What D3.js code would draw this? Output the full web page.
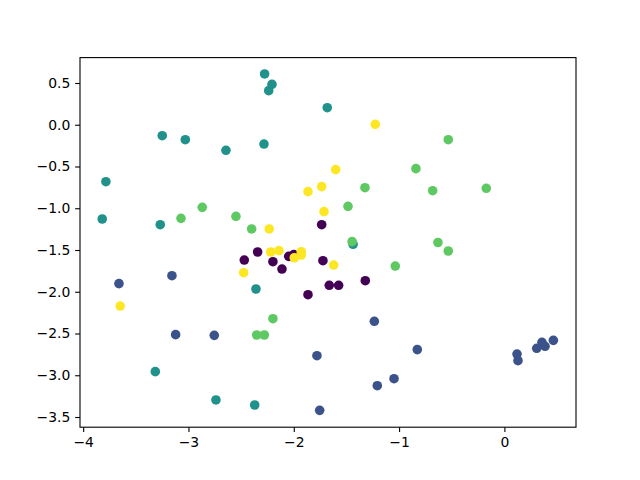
<!DOCTYPE html>
<html><head><meta charset="utf-8">
<script src="https://cdn.jsdelivr.net/npm/d3@7"></script>
<style>body{margin:0;background:#fff}svg{display:block}</style>
</head><body>
<script>
const classes = [0, 1, 2, 3, 4];
const colors = ["#440154", "#3b528b", "#21918c", "#5ec962", "#fde725"];
const class0 = [[-2.470,-1.620],[-2.343,-1.524],[-2.198,-1.640],[-2.112,-1.728],[-2.048,-1.576],[-2.000,-1.555],[-1.735,-1.197],[-1.723,-1.628],[-1.865,-2.035],[-1.663,-1.923],[-1.574,-1.923],[-1.321,-1.868]];
const class1 = [[-3.660,-1.903],[-3.157,-1.808],[-3.122,-2.514],[-2.755,-2.522],[-1.780,-2.766],[-1.754,-3.420],[-1.235,-2.354],[-0.827,-2.693],[-1.207,-3.125],[-1.048,-3.041],[0.120,-2.746],[0.129,-2.825],[0.307,-2.677],[0.357,-2.606],[0.386,-2.653],[0.465,-2.582]];
const class2 = [[-2.277,0.608],[-2.207,0.483],[-2.238,0.408],[-1.682,0.204],[-3.249,-0.131],[-3.030,-0.179],[-2.644,-0.306],[-2.283,-0.231],[-3.784,-0.682],[-3.819,-1.129],[-3.268,-1.197],[-1.437,-1.431],[-2.359,-1.967],[-3.315,-2.957],[-2.739,-3.296],[-2.371,-3.356]];
const class3 = [[-3.071,-1.121],[-2.869,-0.989],[-2.549,-1.097],[-2.400,-1.248],[-0.533,-0.179],[-0.840,-0.526],[-1.324,-0.754],[-0.681,-0.790],[-0.172,-0.761],[-1.485,-0.977],[-1.446,-1.400],[-0.631,-1.410],[-0.533,-1.512],[-1.036,-1.692],[-2.198,-2.323],[-2.352,-2.518],[-2.280,-2.518]];
const class4 = [[-1.226,0.005],[-1.602,-0.538],[-1.865,-0.801],[-1.735,-0.741],[-1.713,-1.041],[-2.233,-1.248],[-2.219,-1.524],[-2.141,-1.508],[-1.995,-1.593],[-1.929,-1.521],[-1.929,-1.560],[-1.621,-1.680],[-2.476,-1.772],[-3.648,-2.171]];
const xTicks = [-4, -3, -2, -1, 0];
const yTicks = [0.5, 0.0, -0.5, -1.0, -1.5, -2.0, -2.5, -3.0, -3.5];

const W = 640, H = 480;
const m = {left: 80, right: 576, top: 57.6, bottom: 427.2};
const x = d3.scaleLinear().domain([-4.030, 0.680]).range([m.left, m.right]);
const y = d3.scaleLinear().domain([-3.622, 0.804]).range([m.bottom, m.top]);

const svg = d3.select("body").append("svg").attr("width", W).attr("height", H);
const fmtMinus = s => s.replace("-", "\u2212");

const all = [class0, class1, class2, class3, class4];
classes.forEach(c => {
  svg.append("g").selectAll("circle").data(all[c]).join("circle")
    .attr("cx", d => x(d[0])).attr("cy", d => y(d[1]))
    .attr("r", 4.8).attr("fill", colors[c]);
});

const xAxis = d3.axisBottom(x).tickValues(xTicks).tickSize(4.86).tickPadding(4.86)
  .tickFormat(d => fmtMinus(d3.format("d")(d)));
const yAxis = d3.axisLeft(y).tickValues(yTicks).tickSize(4.86).tickPadding(4.86)
  .tickFormat(d => fmtMinus(d3.format(".1f")(d)));

const gx = svg.append("g").attr("transform", `translate(0,${m.bottom})`).call(xAxis);
const gy = svg.append("g").attr("transform", `translate(${m.left},0)`).call(yAxis);
[gx, gy].forEach(g => {
  g.select(".domain").remove();
  g.selectAll(".tick line").attr("stroke", "#000").attr("stroke-width", 1.1);
  g.selectAll(".tick text").attr("fill", "#000").style("font-family", "DejaVu Sans").style("font-size", "13.9px");
});
svg.append("rect").attr("x", m.left).attr("y", m.top)
  .attr("width", m.right - m.left).attr("height", m.bottom - m.top)
  .attr("fill", "none").attr("stroke", "#000").attr("stroke-width", 1.1);
</script>
</body></html>
